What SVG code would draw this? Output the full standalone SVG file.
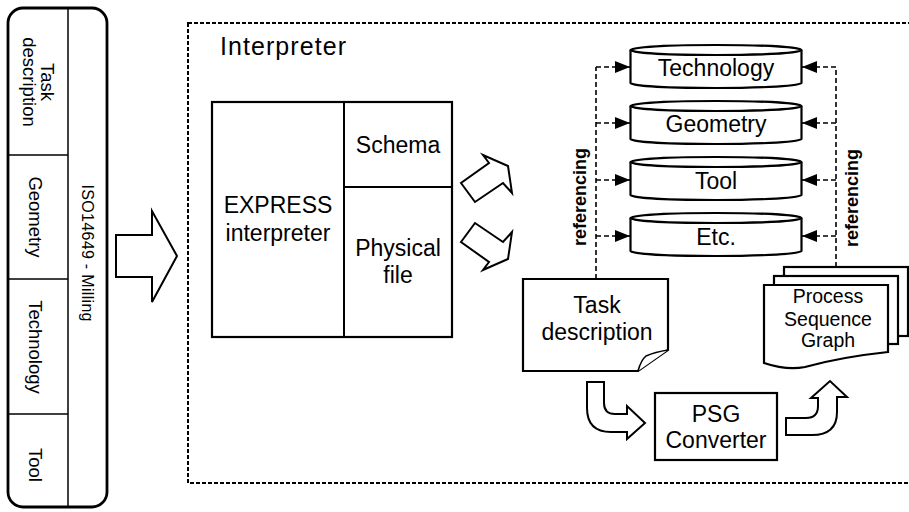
<svg xmlns="http://www.w3.org/2000/svg" width="909" height="512" viewBox="0 0 909 512">
<style>
text{font-family:"Liberation Sans",Arial,sans-serif;fill:#000}
.t18{font-size:18.5px}
.t23{font-size:23px;text-anchor:middle}
.t19{font-size:19.5px;text-anchor:middle}
.ref{font-size:18px;font-weight:bold;text-anchor:middle}
.box{fill:#fff;stroke:#000;stroke-width:2.2}
.thin{fill:none;stroke:#000;stroke-width:1.5}
.dash{fill:none;stroke:#000;stroke-width:1.6;stroke-dasharray:5 3}
.frame{fill:none;stroke:#000;stroke-width:2;stroke-dasharray:4 2}
.blk{fill:#fff;stroke:#000;stroke-width:2;stroke-linejoin:miter}
</style>
<defs>
<marker id="ah" markerUnits="userSpaceOnUse" markerWidth="16" markerHeight="14" refX="15" refY="7" orient="auto">
<path d="M0,1 L15,7 L0,13 Z" fill="#000" stroke="none"/>
</marker>
</defs>
<rect width="909" height="512" fill="#fff"/>

<g id="iso-panel">
<rect x="8" y="8" width="99" height="499" rx="15" ry="15" fill="#fff" stroke="#000" stroke-width="2.8"/>
<line class="thin" x1="68" y1="8" x2="68" y2="507"/>
<line class="thin" x1="8" y1="155" x2="68" y2="155"/>
<line class="thin" x1="8" y1="279" x2="68" y2="279"/>
<line class="thin" x1="8" y1="414" x2="68" y2="414"/>
<text class="t18" text-anchor="middle" transform="translate(41,82) rotate(90)">Task</text>
<text class="t18" text-anchor="middle" transform="translate(23,82) rotate(90)">description</text>
<text class="t18" text-anchor="middle" transform="translate(29,217) rotate(90)">Geometry</text>
<text class="t18" text-anchor="middle" transform="translate(29,347) rotate(90)">Technology</text>
<text class="t18" text-anchor="middle" transform="translate(29,465) rotate(90)">Tool</text>
<text font-size="16" text-anchor="middle" textLength="137" lengthAdjust="spacing" transform="translate(82,253) rotate(90)">ISO14649 - Milling</text>
</g>

<g id="input-arrow">
<path class="blk" d="M116,235 L152,235 L152,211 L177,256 L152,302 L152,277 L116,277 Z"/>
</g>

<g id="interpreter">
<rect x="188" y="23" width="730" height="460" class="frame"/>
<text x="220" y="55" font-size="25" textLength="126" lengthAdjust="spacing">Interpreter</text>
</g>

<g id="express">
<rect x="212" y="102" width="240" height="235" class="box" stroke-width="2.5"/>
<line x1="344" y1="102" x2="344" y2="337" stroke="#000" stroke-width="2"/>
<line x1="344" y1="187" x2="452" y2="187" stroke="#000" stroke-width="2"/>
<text class="t23" x="278" y="213">EXPRESS</text>
<text class="t23" x="278" y="241">interpreter</text>
<text class="t23" x="398" y="153">Schema</text>
<text class="t23" x="398" y="256">Physical</text>
<text class="t23" x="398" y="283">file</text>
</g>

<g id="out-arrows">
<path class="blk" d="M461,183 L475,202 L503,183 L512,193 L508,166 L483,155 L489,163 Z"/>
<path class="blk" d="M461,242 L475,223 L503,242 L512,232 L508,259 L483,270 L489,262 Z"/>
</g>

<g id="db-technology">
<path class="box" d="M630.5,50 L630.5,83 A85.5,5 0 0 0 801.5,83 L801.5,50"/>
<ellipse class="box" cx="716" cy="50" rx="85.5" ry="5"/>
<text class="t23" x="716" y="76">Technology</text>
</g>
<g id="db-geometry">
<path class="box" d="M630.5,106 L630.5,139 A85.5,5 0 0 0 801.5,139 L801.5,106"/>
<ellipse class="box" cx="716" cy="106" rx="85.5" ry="5"/>
<text class="t23" x="716" y="132">Geometry</text>
</g>
<g id="db-tool">
<path class="box" d="M630.5,162 L630.5,195 A85.5,5 0 0 0 801.5,195 L801.5,162"/>
<ellipse class="box" cx="716" cy="162" rx="85.5" ry="5"/>
<text class="t23" x="716" y="189">Tool</text>
</g>
<g id="db-etc">
<path class="box" d="M630.5,218 L630.5,251 A85.5,5 0 0 0 801.5,251 L801.5,218"/>
<ellipse class="box" cx="716" cy="218" rx="85.5" ry="5"/>
<text class="t23" x="716" y="245">Etc.</text>
</g>

<g id="connectors">
<path class="dash" d="M596,279 L596,67"/>
<path class="dash" d="M596,67 L630,67" marker-end="url(#ah)"/>
<path class="dash" d="M596,123 L630,123" marker-end="url(#ah)"/>
<path class="dash" d="M596,180 L630,180" marker-end="url(#ah)"/>
<path class="dash" d="M596,236 L630,236" marker-end="url(#ah)"/>
<path class="dash" d="M836,267 L836,67"/>
<path class="dash" d="M836,67 L802,67" marker-end="url(#ah)"/>
<path class="dash" d="M836,123 L802,123" marker-end="url(#ah)"/>
<path class="dash" d="M836,180 L802,180" marker-end="url(#ah)"/>
<path class="dash" d="M836,236 L802,236" marker-end="url(#ah)"/>
<text class="ref" transform="translate(586,197) rotate(-90)">referencing</text>
<text class="ref" transform="translate(858,198) rotate(-90)">referencing</text>
<path class="blk" d="M587,382 L604,382 L604,403 Q604,414 615,414 L627,414 L627,406 L645,423 L627,439 L627,432 L611,432 Q587,432 587,408 Z"/>
<path class="blk" d="M786,418 L806,418 Q818,418 818,406 L818,398 L811,398 L830,381 L847,397 L837,397 L837,412 Q837,435 812,435 L786,435 Z"/>
</g>

<g id="task-description">
<path class="box" d="M523,279 L668,279 L668,350 L638,371 L523,371 Z"/>
<path fill="#fff" stroke="#000" stroke-width="1.6" d="M638,371 Q641,360 646,356 Q655,352 668,350"/>
<text class="t23" x="597" y="313">Task</text>
<text class="t23" x="597" y="340">description</text>
</g>

<g id="psg-converter">
<rect x="655" y="393" width="122" height="67" class="box"/>
<text class="t23" x="716" y="422">PSG</text>
<text class="t23" x="716" y="448">Converter</text>
</g>

<g id="process-sequence-graph">
<rect x="784" y="267" width="124" height="69" class="box" stroke-width="1.8"/>
<rect x="774" y="276" width="124" height="68" class="box" stroke-width="1.8"/>
<path class="box" d="M764,285 L888,285 L888,352 C860,355 830,360 805,367 C790,370 776,367 764,363 Z"/>
<text class="t19" x="828" y="303">Process</text>
<text class="t19" x="828" y="326">Sequence</text>
<text class="t19" x="828" y="347">Graph</text>
</g>
</svg>
